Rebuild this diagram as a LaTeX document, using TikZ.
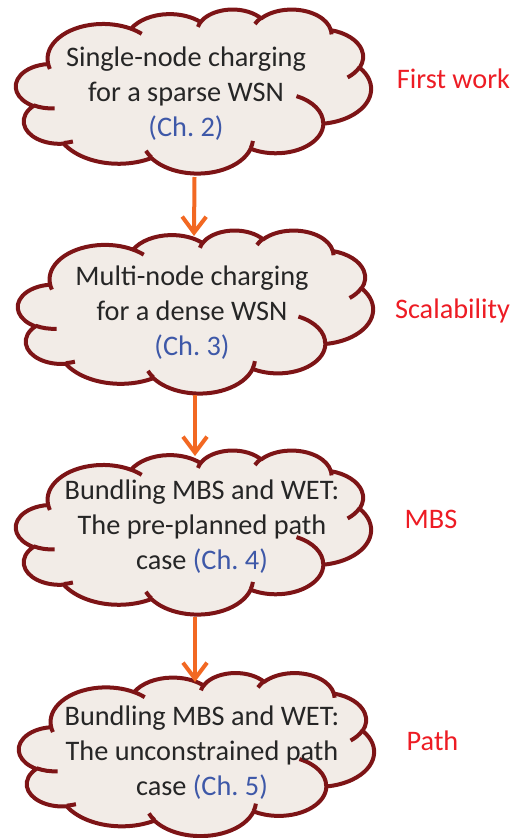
\documentclass[tikz,border=0pt]{standalone}
\usepackage{fontspec}
\setmainfont{Carlito}
\usetikzlibrary{arrows.meta}

\definecolor{cloudline}{RGB}{125,20,22}
\definecolor{cloudfill}{RGB}{242,236,231}
\definecolor{bodytext}{RGB}{38,38,38}
\definecolor{chapblue}{RGB}{62,88,168}
\definecolor{notered}{RGB}{237,28,36}
\definecolor{flow}{RGB}{242,104,34}

% Cloud outline built from elliptical arcs given by visual start angle and sweep
% (y pointing down), converted to the parametric angles that TikZ's arc uses.
\makeatletter
\newcommand\ooarcto[4]{%
  \pgfmathsetmacro\oo@ts{atan2(#1*sin(#3),#2*cos(#3))}%
  \pgfmathsetmacro\oo@te{atan2(#1*sin(#3+#4),#2*cos(#3+#4))}%
  \pgfmathsetmacro\oo@td{mod(\oo@te-\oo@ts+720,360)}%
  \xdef\oo@path{\oo@path arc[x radius=#1,y radius=#2,start angle=\oo@ts,delta angle=\oo@td]}%
}
\newcommand\oomoveto[2]{\xdef\oo@path{\oo@path (#1,#2)}}

% outer puffs, on a 432 x 432 grid
\gdef\oo@path{}
\ooarcto{67.53}{91.90}{-190.4875}{123.7805}
\ooarcto{53.33}{72.67}{-144.1024}{89.9452}
\ooarcto{43.65}{59.45}{-145.8079}{99.7230}
\ooarcto{48.57}{65.95}{-130.9861}{117.2417}
\ooarcto{53.33}{72.73}{-78.7089}{109.0269}
\ooarcto{67.75}{92.20}{-46.2673}{130.2690}
\ooarcto{57.85}{78.67}{0.6250}{114.0333}
\ooarcto{67.52}{92.15}{22.4516}{115.1726}
\ooarcto{77.20}{105.43}{66.2426}{75.7110}
\ooarcto{43.60}{59.18}{-274.9421}{146.7356}
\ooarcto{43.45}{59.45}{-246.8285}{152.5189}
\global\let\cloudoutline\oo@path

% inner curls
\gdef\oo@path{}
\oomoveto{46.93}{261.77}\ooarcto{43.45}{59.45}{86.7420}{26.4295}
\oomoveto{69.28}{348.99}\ooarcto{43.60}{59.18}{73.6105}{11.4475}
\oomoveto{164.78}{390.90}\ooarcto{67.52}{92.15}{137.6242}{14.0811}
\oomoveto{288.27}{347.51}\ooarcto{67.52}{92.15}{6.4533}{15.9984}
\oomoveto{341.29}{229.54}\ooarcto{57.85}{78.67}{-70.2924}{70.9174}
\oomoveto{417.98}{153.54}\ooarcto{53.33}{72.73}{30.3180}{27.7515}
\oomoveto{383.24}{54.26}\ooarcto{48.57}{65.95}{-13.7443}{14.8589}
\oomoveto{290.78}{39.52}\ooarcto{48.57}{65.95}{-149.1815}{18.1954}
\oomoveto{221.41}{47.20}\ooarcto{43.65}{59.45}{-163.4943}{17.6864}
\oomoveto{140.00}{51.92}\ooarcto{67.53}{91.90}{-66.7070}{12.3194}
\oomoveto{41.27}{157.89}\ooarcto{67.53}{91.90}{157.6544}{11.8582}
\global\let\cloudcurls\oo@path
\makeatother

% left, top, width, height (page units, top measured downwards)
\newcommand\cloudshape[4]{%
  \begin{scope}[shift={(#1,-#2)},xscale=#3/432,yscale=-#4/432]
    \path[cloudbody] (39.00,143.70) \cloudoutline -- cycle;
    \path[cloudcurl] \cloudcurls;
  \end{scope}}

\newcommand\chapnote[1]{\textcolor{chapblue}{(Ch.~#1)}}

\tikzset{
  cloudbody/.style={draw=cloudline, fill=cloudfill, line width=4pt, line join=round},
  cloudcurl/.style={draw=cloudline, line width=4pt},
  cloudtext/.style={font=\fontsize{28.3}{35}\selectfont, text=bodytext, align=center, inner sep=0pt},
  notelabel/.style={font=\fontsize{28.3}{34}\selectfont, text=notered, anchor=base, inner sep=0pt},
  flowarrow/.style={draw=flow, line width=4pt, -{Straight Barb[length=16pt,width=24pt]}},
}

\begin{document}
\begin{tikzpicture}[x=1pt,y=1pt]
  \useasboundingbox (0,0) rectangle (513,-838);

  % clouds
  \cloudshape{16}{9}{355}{164}
  \cloudshape{18}{230}{355}{163}
  \cloudshape{16}{450}{355}{164}
  \cloudshape{19}{672.5}{355}{163}

  % cloud texts
  \node[cloudtext] (t1) at (186,-93.5) {Single-node charging\\for a sparse WSN\\\chapnote{2}};
  \node[cloudtext] (t2) at (192,-313) {Multi-node charging\\for a dense WSN\\\chapnote{3}};
  \node[cloudtext] (t3) at (202,-527) {Bundling MBS and WET:\\The pre-planned path\\case \chapnote{4}};
  \node[cloudtext] (t4) at (202,-753) {Bundling MBS and WET:\\The unconstrained path\\case \chapnote{5}};

  % side labels
  \node[notelabel] (l1) at (453.5,-88) {First work};
  \node[notelabel] (l2) at (452.5,-318) {Scalability};
  \node[notelabel] (l3) at (431,-528) {MBS};
  \node[notelabel] (l4) at (432.5,-750) {Path};

  % arrow ends on the cloud rims
  \coordinate (c1bot) at (194.5,-177);
  \coordinate (c2top) at (194,-236);
  \coordinate (c2bot) at (195,-395);
  \coordinate (c3top) at (195,-456);
  \coordinate (c3bot) at (195,-617);
  \coordinate (c4top) at (195,-682);

  \draw[flowarrow] (c1bot) -- (c2top);
  \draw[flowarrow] (c2bot) -- (c3top);
  \draw[flowarrow] (c3bot) -- (c4top);
\end{tikzpicture}
\end{document}
